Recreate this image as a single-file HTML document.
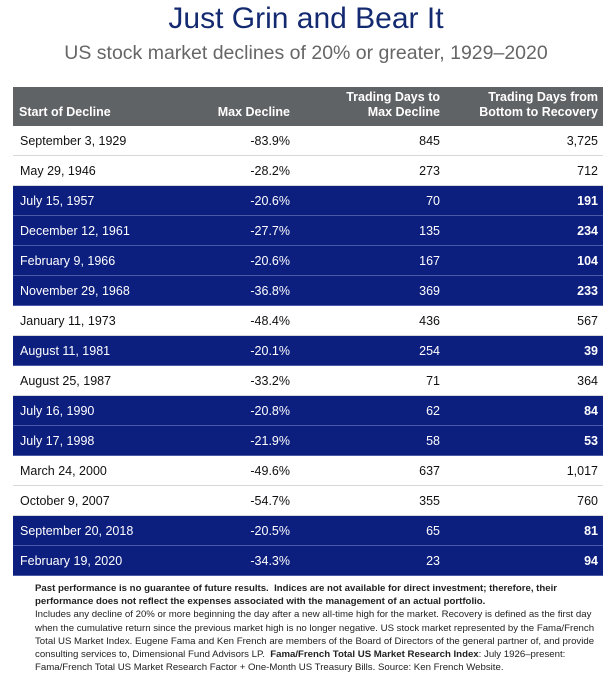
<!DOCTYPE html>
<html><head><meta charset="utf-8"><style>
body{margin:0;width:612px;height:695px;background:#fff;font-family:"Liberation Sans",Arial,sans-serif;position:relative;overflow:hidden}
#title{position:absolute;top:0;left:0;width:612px;text-align:center;font-size:30px;color:#142a70;line-height:38px}
#sub{position:absolute;top:38px;left:0;width:612px;text-align:center;font-size:19.5px;color:#666;line-height:30px}
#hdr{position:absolute;left:13px;top:87px;width:590px;height:39px;background:#606366;color:#fff;font-weight:bold;font-size:12.5px}
.h{position:absolute;bottom:6px;line-height:15px;text-align:right}
.row{position:absolute;left:13px;width:590px;height:30px;font-size:12.5px;line-height:30px}
.w{background:#fff;color:#111;border-bottom:1px solid #d8d8d8;box-sizing:border-box}
.n{background:#0c1e7e;color:#fff;border-bottom:1px solid #4a5aa8;box-sizing:border-box}
.c{position:absolute;top:0}
.n .c4{font-weight:bold}
#foot{position:absolute;left:35px;top:582px;font-size:9.65px;line-height:13.2px;color:#222;white-space:nowrap}
</style></head><body>
<div id="title">Just Grin and Bear It</div>
<div id="sub">US stock market declines of 20% or greater, 1929–2020</div>
<div id="hdr">
<div class="h" style="left:6px;text-align:left">Start of Decline</div>
<div class="h" style="right:313px">Max Decline</div>
<div class="h" style="right:163px">Trading Days to<br>Max Decline</div>
<div class="h" style="right:5px">Trading Days from<br>Bottom to Recovery</div>
</div>
<div id="rows"></div>
<div id="foot"><b>Past performance is no guarantee of future results.&nbsp; Indices are not available for direct investment; therefore, their<br>performance does not reflect the expenses associated with the management of an actual portfolio.</b><br>Includes any decline of 20% or more beginning the day after a new all-time high for the market. Recovery is defined as the first day<br>when the cumulative return since the previous market high is no longer negative. US stock market represented by the Fama/French<br>Total US Market Index. Eugene Fama and Ken French are members of the Board of Directors of the general partner of, and provide<br>consulting services to, Dimensional Fund Advisors LP.&nbsp; <b>Fama/French Total US Market Research Index</b>: July 1926–present:<br>Fama/French Total US Market Research Factor + One-Month US Treasury Bills. Source: Ken French Website.</div>
<script>
const dates=["September 3, 1929","May 29, 1946","July 15, 1957","December 12, 1961","February 9, 1966","November 29, 1968","January 11, 1973","August 11, 1981","August 25, 1987","July 16, 1990","July 17, 1998","March 24, 2000","October 9, 2007","September 20, 2018","February 19, 2020"];
const maxDecline=[-83.9,-28.2,-20.6,-27.7,-20.6,-36.8,-48.4,-20.1,-33.2,-20.8,-21.9,-49.6,-54.7,-20.5,-34.3];
const daysToMax=[845,273,70,135,167,369,436,254,71,62,58,637,355,65,23];
const daysRecovery=[3725,712,191,234,104,233,567,39,364,84,53,1017,760,81,94];
const highlighted=[0,0,1,1,1,1,0,1,0,1,1,0,0,1,1];
const wrap=document.getElementById('rows');
dates.forEach((d,i)=>{
 const r=document.createElement('div');
 r.className='row '+(highlighted[i]?'n':'w');
 r.style.top=(126+i*30)+'px';
 
 
 const cells=[[d,'left:7px'],[maxDecline[i].toFixed(1)+'%','right:313px'],[daysToMax[i].toLocaleString('en-US'),'right:163px'],[daysRecovery[i].toLocaleString('en-US'),'right:5px']];
 cells.forEach((c,j)=>{
  const s=document.createElement('div');
  s.className='c c'+(j+1);
  s.style.cssText=c[1];
  s.textContent=c[0];
  
  
  r.appendChild(s);
 });
 wrap.appendChild(r);
});
</script>
</body></html>
